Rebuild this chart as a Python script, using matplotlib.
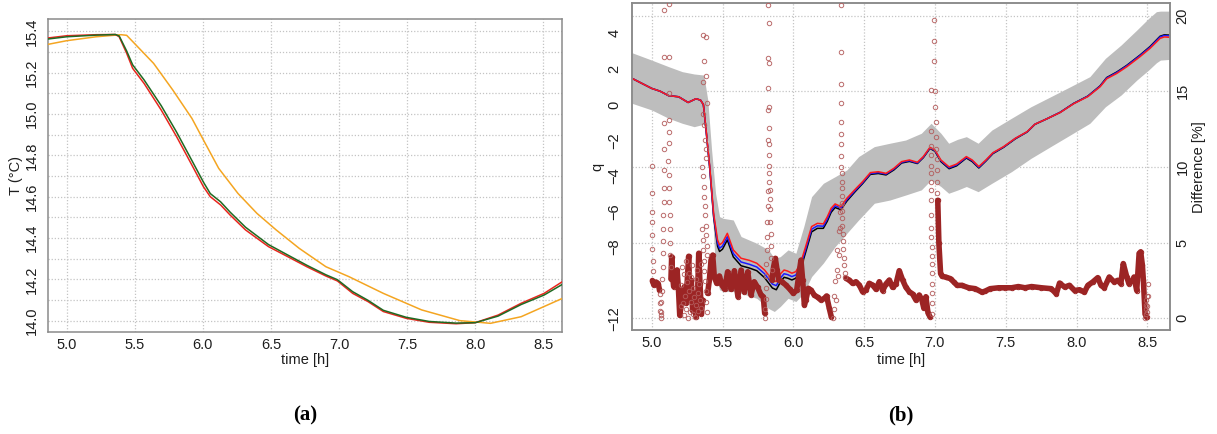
import matplotlib
matplotlib.use("Agg")
import matplotlib.pyplot as plt
import numpy as np

plt.rcParams['font.family'] = ['Liberation Sans', 'DejaVu Sans']

# ---------------- Panel (a) data ----------------
t_red_a = [4.86, 5.0, 5.216, 5.357, 5.385, 5.44, 5.484, 5.568, 5.694, 5.807, 5.919, 6.004, 6.054, 6.13, 6.2,
           6.313, 6.482, 6.622, 6.763, 6.903, 6.988, 7.1, 7.213, 7.325, 7.494, 7.662, 7.859, 8.0, 8.168,
           8.337, 8.506, 8.641]
T_red = [15.368, 15.379, 15.384, 15.385, 15.374, 15.294, 15.221, 15.148, 15.019, 14.890, 14.753, 14.648, 14.600,
         14.560, 14.511, 14.439, 14.358, 14.310, 14.261, 14.216, 14.192, 14.132, 14.092, 14.044, 14.011, 13.992,
         13.985, 13.990, 14.027, 14.084, 14.132, 14.189]
T_green = [15.363, 15.374, 15.382, 15.385, 15.378, 15.305, 15.238, 15.165, 15.040, 14.912, 14.775, 14.670, 14.615,
           14.575, 14.525, 14.452, 14.368, 14.318, 14.268, 14.222, 14.198, 14.140, 14.098, 14.050, 14.016, 13.996,
           13.988, 13.990, 14.022, 14.078, 14.124, 14.176]
t_orange = [4.86, 5.0, 5.216, 5.399, 5.44, 5.497, 5.638, 5.779, 5.919, 6.004, 6.116, 6.257, 6.397, 6.538, 6.707,
            6.903, 7.072, 7.325, 7.606, 7.887, 8.112, 8.337, 8.641]
T_orange = [15.337, 15.355, 15.374, 15.384, 15.381, 15.342, 15.245, 15.116, 14.979, 14.874, 14.737, 14.616, 14.519,
            14.439, 14.350, 14.261, 14.213, 14.132, 14.052, 14.000, 13.987, 14.019, 14.108]
xticks = [5.0, 5.5, 6.0, 6.5, 7.0, 7.5, 8.0, 8.5]
yticks_a = [14.0, 14.2, 14.4, 14.6, 14.8, 15.0, 15.2, 15.4]

# ---------------- Panel (b) data ----------------
t_q = [4.862, 5.0, 5.06, 5.12, 5.19, 5.257, 5.313, 5.345, 5.365, 5.382, 5.41, 5.437, 5.465, 5.479, 5.50, 5.534,
       5.576, 5.631, 5.69, 5.742, 5.797, 5.852, 5.88, 5.91, 5.935, 5.96, 5.99, 6.018, 6.051, 6.087, 6.129, 6.17,
       6.212, 6.24, 6.267, 6.295, 6.336, 6.378, 6.433, 6.489, 6.544, 6.6, 6.655, 6.71, 6.765, 6.82, 6.876, 6.918,
       6.965, 7.0, 7.042, 7.1, 7.153, 7.222, 7.263, 7.31, 7.36, 7.41, 7.485, 7.568, 7.651, 7.706, 7.79, 7.883,
       7.98, 8.08, 8.166, 8.213, 8.284, 8.354, 8.448, 8.519, 8.59, 8.62, 8.66]
q_red = [1.47, 0.91, 0.75, 0.50, 0.44, 0.12, 0.33, 0.25, 0.0, -1.24, -3.49, -6.1, -7.6, -7.88, -7.75, -7.23,
         -8.16, -8.63, -8.75, -8.91, -9.29, -9.85, -9.94, -9.5, -9.29, -9.35, -9.47, -9.38, -8.91, -7.98, -6.85,
         -6.67, -6.7, -6.3, -5.82, -5.58, -5.73, -5.26, -4.79, -4.33, -3.82, -3.77, -3.86, -3.58, -3.2, -3.11,
         -3.24, -2.92, -2.4, -2.55, -3.11, -3.5, -3.34, -2.92, -3.11, -3.48, -3.11, -2.7, -2.36, -1.89, -1.52,
         -1.1, -0.8, -0.45, 0.05, 0.45, 1.0, 1.45, 1.75, 2.12, 2.69, 3.16, 3.72, 3.8, 3.78]
q_blue = [1.47, 0.91, 0.75, 0.50, 0.44, 0.12, 0.33, 0.25, 0.0, -1.27, -3.55, -6.2, -7.78, -8.07, -7.94, -7.42,
          -8.36, -8.84, -8.97, -9.12, -9.5, -10.08, -10.17, -9.73, -9.5, -9.55, -9.66, -9.57, -9.08, -8.14, -7.0,
          -6.81, -6.83, -6.43, -5.94, -5.68, -5.82, -5.34, -4.86, -4.39, -3.87, -3.82, -3.9, -3.62, -3.24, -3.15,
          -3.28, -2.95, -2.43, -2.58, -3.15, -3.55, -3.39, -2.96, -3.15, -3.52, -3.14, -2.72, -2.38, -1.9, -1.53,
          -1.1, -0.8, -0.44, 0.06, 0.47, 1.03, 1.49, 1.8, 2.17, 2.75, 3.22, 3.8, 3.88, 3.86]
q_black = [1.47, 0.91, 0.75, 0.50, 0.44, 0.12, 0.33, 0.25, 0.0, -1.3, -3.6, -6.3, -7.95, -8.25, -8.12, -7.6,
           -8.55, -9.05, -9.18, -9.33, -9.72, -10.3, -10.4, -9.95, -9.7, -9.75, -9.85, -9.75, -9.25, -8.3, -7.15,
           -6.95, -6.95, -6.55, -6.05, -5.78, -5.9, -5.42, -4.92, -4.44, -3.92, -3.87, -3.95, -3.67, -3.28, -3.19,
           -3.31, -2.98, -2.46, -2.62, -3.2, -3.6, -3.44, -3.0, -3.2, -3.56, -3.17, -2.75, -2.4, -1.92, -1.54,
           -1.11, -0.8, -0.44, 0.07, 0.48, 1.05, 1.52, 1.83, 2.2, 2.78, 3.26, 3.84, 3.92, 3.9]

t_band = [4.862, 5.0, 5.12, 5.216, 5.3, 5.368, 5.396, 5.423, 5.451, 5.479, 5.506, 5.576, 5.631, 5.742, 5.825,
          5.866, 5.908, 5.963, 6.018, 6.074, 6.129, 6.212, 6.295, 6.378, 6.461, 6.572, 6.682, 6.793, 6.904,
          6.973, 7.042, 7.097, 7.16, 7.222, 7.305, 7.402, 7.54, 7.678, 7.817, 7.955, 8.094, 8.204, 8.315, 8.426,
          8.509, 8.564, 8.592, 8.66]
q_upper = [2.91, 2.5, 2.13, 1.85, 1.72, 1.66, 0.26, -2.55, -4.98, -6.29, -6.39, -6.48, -7.41, -7.79, -8.16,
           -8.63, -8.54, -8.16, -8.35, -6.85, -5.17, -4.42, -4.05, -3.67, -2.92, -2.36, -2.17, -1.99, -1.61,
           -1.05, -1.61, -2.17, -1.95, -1.8, -2.17, -1.43, -0.77, -0.12, 0.44, 1.0, 1.57, 2.6, 3.35, 4.19, 4.84,
           5.22, 5.25, 5.25]
q_lower = [0.07, -0.3, -0.77, -1.05, -1.24, -1.1, -2.0, -5.0, -9.5, -10.4, -10.5, -10.5, -10.6, -10.88, -11.45,
           -11.62, -11.34, -10.88, -11.06, -10.6, -9.66, -8.9, -7.98, -7.23, -6.48, -5.54, -5.36, -5.08, -4.79,
           -4.23, -4.6, -4.98, -4.8, -4.6, -4.89, -4.42, -3.77, -3.02, -2.36, -1.71, -1.05, -0.12, 0.54, 1.38,
           1.94, 2.35, 2.5, 2.54]

# Difference [%] main trace (segments separated by None where the series jumps)
t_diff = [5.005, 5.015, 5.03, 5.045, 5.055, None,
          5.136, 5.141, 5.148, 5.155, 5.167, 5.179, 5.188, 5.198, 5.214, 5.231, 5.242, 5.261, 5.271, 5.28, 5.289,
          5.301, 5.313, 5.325, 5.332, 5.341, 5.351, 5.36, None,
          5.395, 5.407, 5.419, 5.431, 5.442, 5.459, 5.478, 5.496, 5.515, 5.536, 5.56, 5.584, 5.609, 5.631, 5.654,
          5.678, 5.701, 5.724, 5.748, 5.772, 5.788, 5.798, None,
          5.849, 5.861, 5.873, 5.885, 5.896, 5.92, 5.948, 5.976, 6.0, 6.024, 6.042, 6.054, 6.066, 6.078, 6.089,
          6.106, 6.125, 6.148, 6.172, 6.195, 6.219, 6.235, 6.254, 6.268, None,
          6.372, 6.395, 6.419, 6.442, 6.466, 6.489, 6.513, 6.536, 6.56, 6.584, 6.607, 6.631, 6.654, 6.678, 6.701,
          6.725, 6.748, 6.772, 6.795, 6.819, 6.842, 6.866, 6.889, 6.908, 6.922, 6.936, 6.951, 6.965, None,
          7.02, 7.028, 7.04, 7.051, 7.075, 7.11, 7.133, 7.157, 7.19, 7.238, 7.285, 7.332, 7.355, 7.39, 7.449,
          7.495, 7.542, 7.589, 7.636, 7.682, 7.752, 7.822, 7.857, 7.88, 7.916, 7.95, 7.986, 8.021, 8.056, 8.08,
          8.114, 8.15, 8.173, 8.196, 8.231, 8.266, 8.29, 8.313, 8.33, 8.355, 8.37, 8.395, 8.406, 8.425, 8.442,
          8.453, 8.465, 8.472, 8.484, 8.495]
d_diff = [2.5, 2.2, 2.4, 2.3, 1.9, None,
          2.6, 4.07, 2.75, 2.1, 2.5, 3.2, 2.1, 0.2, 1.2, 2.1, 1.0, 4.1, 1.2, 2.5, 0.5, 1.65, 0.1, 1.9, 4.3, 2.3,
          0.3, 1.2, None,
          1.65, 2.53, 3.85, 4.18, 2.75, 2.31, 2.8, 2.2, 1.92, 3.08, 1.92, 3.15, 1.43, 3.19, 1.76, 3.08, 1.54,
          2.42, 2.05, 1.54, 1.43, 0.33, None,
          2.53, 3.41, 3.96, 3.19, 2.53, 2.42, 2.2, 1.92, 1.65, 1.87, 3.08, 3.85, 2.53, 0.88, 1.21, 1.98, 1.87,
          1.54, 1.39, 1.21, 1.32, 1.48, 0.66, 0.11, None,
          2.64, 2.53, 2.31, 2.42, 2.2, 1.76, 1.87, 2.31, 2.2, 1.92, 2.42, 1.83, 2.27, 2.53, 2.05, 2.27, 3.15,
          2.53, 2.05, 1.76, 1.61, 1.21, 1.54, 1.21, 0.66, 1.43, 0.37, 0.1, None,
          7.8, 4.96, 2.96, 2.78, 2.73, 2.62, 2.4, 2.18, 2.18, 2.02, 1.96, 1.73, 1.8, 1.96, 2.02, 2.02, 2.02, 2.1,
          2.02, 2.1, 2.02, 1.96, 1.62, 2.33, 2.07, 2.18, 1.84, 1.89, 1.73, 2.18, 2.4, 2.69, 2.18, 2.02, 2.73,
          2.4, 2.51, 2.29, 3.62, 2.73, 2.29, 2.51, 2.73, 1.84, 4.29, 4.4, 3.5, 2.51, 0.29, 0.07]

# Sparse points where the Difference series changes fast
t_sparse = [5.000, 5.001, 5.002, 5.003, 5.004, 5.005, 5.006, 5.007, 5.056, 5.059, 5.061, 5.063, 5.065,
            5.066, 5.069, 5.072, 5.075, 5.078, 5.080, 5.081, 5.082, 5.083, 5.084, 5.085, 5.086, 5.087, 5.088,
            5.089, 5.088, 5.124, 5.123, 5.122, 5.121, 5.120, 5.119, 5.118, 5.120, 5.122, 5.124, 5.126, 5.128,
            5.130, 5.132, 5.134,
            5.205, 5.21, 5.215, 5.22, 5.225, 5.23, 5.235, 5.24, 5.245, 5.25, 5.255, 5.26, 5.265, 5.27, 5.275,
            5.28, 5.285, 5.29, 5.295, 5.30, 5.305, 5.31, 5.315, 5.32, 5.325, 5.33, 5.335, 5.34, 5.345, 5.35,
            5.362, 5.384, 5.372, 5.386, 5.360, 5.388, 5.365, 5.370, 5.375, 5.380, 5.385, 5.358, 5.362, 5.366,
            5.370, 5.374, 5.378, 5.382, 5.386, 5.390, 5.393, 5.355, 5.360, 5.364, 5.368, 5.372, 5.376, 5.380,
            5.384, 5.388,
            5.823, 5.825, 5.822, 5.826, 5.824, 5.827, 5.822, 5.826, 5.823, 5.825, 5.828, 5.826, 5.829, 5.830,
            5.832, 5.834, 5.836, 5.838, 5.840, 5.842, 5.844, 5.846, 5.800, 5.802, 5.804, 5.806, 5.808, 5.810,
            5.812, 5.814, 5.816, 5.818, 5.820,
            6.338, 6.338, 6.339, 6.339, 6.339, 6.340, 6.340, 6.340, 6.340, 6.341, 6.341, 6.342, 6.343, 6.344,
            6.345, 6.346, 6.347, 6.348, 6.350, 6.352, 6.355, 6.358, 6.362, 6.366, 6.280, 6.285, 6.290, 6.295,
            6.300, 6.305, 6.310, 6.315, 6.320, 6.325, 6.330, 6.333, 6.336,
            6.978, 6.978, 6.977, 6.977, 6.977, 6.976, 6.976, 6.976, 6.975, 6.975, 6.975, 6.974, 6.974, 6.974,
            6.973, 6.973, 6.973, 6.972, 6.972, 6.971, 6.990, 6.995, 6.997, 7.000, 7.003, 7.005, 7.008, 7.010,
            7.012, 7.014, 7.016, 7.018,
            8.486, 8.489, 8.490, 8.492, 8.494, 8.496, 8.498, 8.500, 8.502, 8.505]
d_sparse = [10.1, 8.3, 7.0, 6.4, 5.5, 4.6, 3.8, 3.1, 1.6, 1.0, 0.5, 0.2, 0.0,
            0.4, 1.1, 1.8, 2.6, 3.4, 4.3, 5.1, 5.9, 6.8, 7.7, 8.6, 9.8, 11.2, 12.9,
            17.3, 20.4, 20.8, 17.3, 14.9, 13.1, 12.3, 11.6, 10.4, 9.5, 8.6, 7.7, 6.8, 5.9,
            5.0, 4.2, 3.4,
            0.8, 2.2, 3.4, 1.0, 0.2, 2.9, 1.5, 3.8, 0.6, 2.4, 0.0, 3.0, 1.8, 0.4, 2.7,
            1.1, 3.5, 0.3, 2.0, 1.4, 0.1, 2.6, 0.9, 3.2, 1.7, 0.5, 2.3, 1.2, 3.6, 0.7,
            18.7, 18.6, 17.0, 16.0, 15.6, 14.2, 13.5, 12.8, 11.8, 11.2, 10.6, 10.0, 9.4, 8.7,
            8.0, 7.4, 6.8, 6.1, 5.5, 4.8, 4.2, 5.9, 5.2, 4.5, 3.8, 3.1, 2.5, 1.8,
            1.1, 0.4,
            20.7, 19.5, 17.2, 16.9, 15.2, 14.0, 13.8, 12.6, 11.8, 11.5, 10.8, 10.1, 9.6, 9.0,
            8.5, 7.9, 7.2, 6.4, 5.6, 4.8, 4.0, 3.2, 0.0, 0.6, 1.3, 2.0, 2.8, 3.6,
            4.5, 5.4, 6.4, 7.4, 8.4,
            20.7, 17.6, 15.5, 14.2, 13.0, 12.2, 11.5, 10.7, 10.0, 9.6, 9.0, 8.6, 8.1, 7.6,
            7.1, 6.6, 6.1, 5.6, 5.1, 4.6, 4.0, 3.5, 3.0, 2.7, 0.0, 0.6, 1.5, 2.5,
            1.2, 3.2, 4.5, 2.8, 5.8, 4.2, 7.0, 6.0, 7.4,
            0.3, 1.0, 1.7, 2.3, 3.0, 3.6, 4.1, 4.7, 5.4, 6.0, 6.8, 7.8, 8.5, 9.0,
            9.6, 10.1, 10.8, 11.4, 12.4, 15.1, 19.7, 18.3, 17.0, 15.0, 14.0, 13.0, 12.0, 11.2,
            10.5, 9.8, 9.0, 8.3,
            0.0, 0.3, 0.6, 0.9, 1.2, 1.5, 0.8, 0.4, 2.3, 1.5]

q_ticks = [4, 2, 0, -2, -4, -6, -8, -12]
diff_ticks = [0, 5, 10, 15, 20]

# ---------------- Figure ----------------
W, H = 1217, 434
fig = plt.figure(figsize=(W / 100, H / 100), dpi=100)

def fx(px):
    return px / W

def fy(py):
    return 1 - py / H

grid_kw = dict(color='#c4c4c4', linestyle=(0, (1, 1.5)), linewidth=0.9)
spine_col = '#8a8a8a'
txt_col = '#1e1e1e'
FS = 10.5

def style(ax):
    for s in ax.spines.values():
        s.set_color(spine_col)
        s.set_linewidth(1.1)
    ax.tick_params(length=0, labelsize=FS, colors=txt_col)

# ----- Panel (a)
ax_a = fig.add_axes([fx(47.7), fy(332), fx(561.7) - fx(47.7), fy(19) - fy(332)])
ax_a.plot(t_orange, T_orange, color='#f4a521', lw=1.1, zorder=3)
ax_a.plot(t_red_a, T_red, color='#e8261e', lw=1.1, zorder=4)
ax_a.plot(t_red_a, T_green, color='#1f6a22', lw=1.1, zorder=5)
ax_a.set_xlim(4.86, 8.635)
ax_a.set_ylim(13.945, 15.46)
ax_a.set_xticks(xticks)
ax_a.set_xticklabels([f"{v:.1f}" for v in xticks])
ax_a.set_yticks(yticks_a)
ax_a.set_yticklabels([f"{v:.1f}" for v in yticks_a])
ax_a.set_yticks([v + 0.1 for v in yticks_a[:-1]], minor=True)
ax_a.grid(True, which='both', axis='y', **grid_kw)
ax_a.grid(True, which='major', axis='x', **grid_kw)
ax_a.set_axisbelow(True)
style(ax_a)
ax_a.tick_params(which='minor', length=0)
ax_a.tick_params(axis='y', pad=6)
ax_a.tick_params(axis='x', pad=4)
for lab in ax_a.get_yticklabels():
    lab.set_rotation(90)
    lab.set_va('center')

fig.text(fx(16), fy(175.5), 'T (°C)', rotation=90, ha='center', va='center', fontsize=FS, color=txt_col)
fig.text(fx(304.7), fy(360), 'time [h]', ha='center', va='center', fontsize=FS, color=txt_col)
fig.text(fx(304.7), fy(415), '(a)', ha='center', va='center', fontsize=15, fontweight='bold',
         family='Liberation Serif', color='black')

# ----- Panel (b)
ax_b = fig.add_axes([fx(632.3), fy(330), fx(1170) - fx(632.3), fy(3.3) - fy(330)])
ax_b2 = ax_b.twinx()
q_lo, q_hi = -12.66, 5.69
d_lo, d_hi = -0.77, 20.82
ax_b.set_xlim(4.863, 8.66)
ax_b.set_ylim(q_lo, q_hi)
ax_b2.set_ylim(d_lo, d_hi)

# horizontal grid at the Difference ticks, drawn beneath the band
for d in diff_ticks:
    yq = q_lo + (d - d_lo) / (d_hi - d_lo) * (q_hi - q_lo)
    ax_b.axhline(yq, zorder=0.5, **grid_kw)
for x in xticks:
    ax_b.axvline(x, zorder=0.5, **grid_kw)

ax_b.fill_between(t_band, q_lower, q_upper, color='#bdbdbd', lw=0, zorder=1)
ax_b.plot(t_q, q_black, color='black', lw=1.1, zorder=2)
ax_b.plot(t_q, q_blue, color='#1a1aff', lw=1.1, zorder=2.1)
ax_b.plot(t_q, q_red, color='#ff1a1a', lw=1.1, zorder=2.2)

td = np.array([np.nan if v is None else v for v in t_diff], dtype=float)
dd = np.array([np.nan if v is None else v for v in d_diff], dtype=float)
ax_b2.plot(td, dd, color='#9c2424', lw=4.0, solid_capstyle='round', solid_joinstyle='round', zorder=3)
ax_b2.plot(td, dd, ls='none', marker='o', ms=3.2, mfc='none', mec='#9c2424', mew=0.7, zorder=3.1)
ax_b2.plot(t_sparse, d_sparse, ls='none', marker='o', ms=3.2, mfc='none', mec='#b35c5c', mew=0.7,
           alpha=0.9, zorder=3.2)

ax_b.set_xticks(xticks)
ax_b.set_xticklabels([f"{v:.1f}" for v in xticks])
ax_b.set_yticks(q_ticks)
ax_b.set_yticklabels([f"{v:d}".replace('-', '\u2212') for v in q_ticks])
ax_b2.set_yticks(diff_ticks)
ax_b2.set_yticklabels([str(v) for v in diff_ticks])
style(ax_b)
style(ax_b2)
ax_b.tick_params(axis='y', pad=8)
ax_b.tick_params(axis='x', pad=4)
ax_b2.tick_params(axis='y', pad=4)
for lab in ax_b.get_yticklabels():
    lab.set_rotation(90)
    lab.set_va('center')
for lab in ax_b2.get_yticklabels():
    lab.set_rotation(90)
    lab.set_va('center')

fig.text(fx(597), fy(166.7), 'q', rotation=90, ha='center', va='center', fontsize=FS, color=txt_col)
fig.text(fx(1199.5), fy(166.7), 'Difference [%]', rotation=90, ha='center', va='center', fontsize=FS,
         color=txt_col)
fig.text(fx(901), fy(360), 'time [h]', ha='center', va='center', fontsize=FS, color=txt_col)
fig.text(fx(901), fy(415), '(b)', ha='center', va='center', fontsize=15, fontweight='bold',
         family='Liberation Serif', color='black')

fig.savefig('out.png', dpi=100)
